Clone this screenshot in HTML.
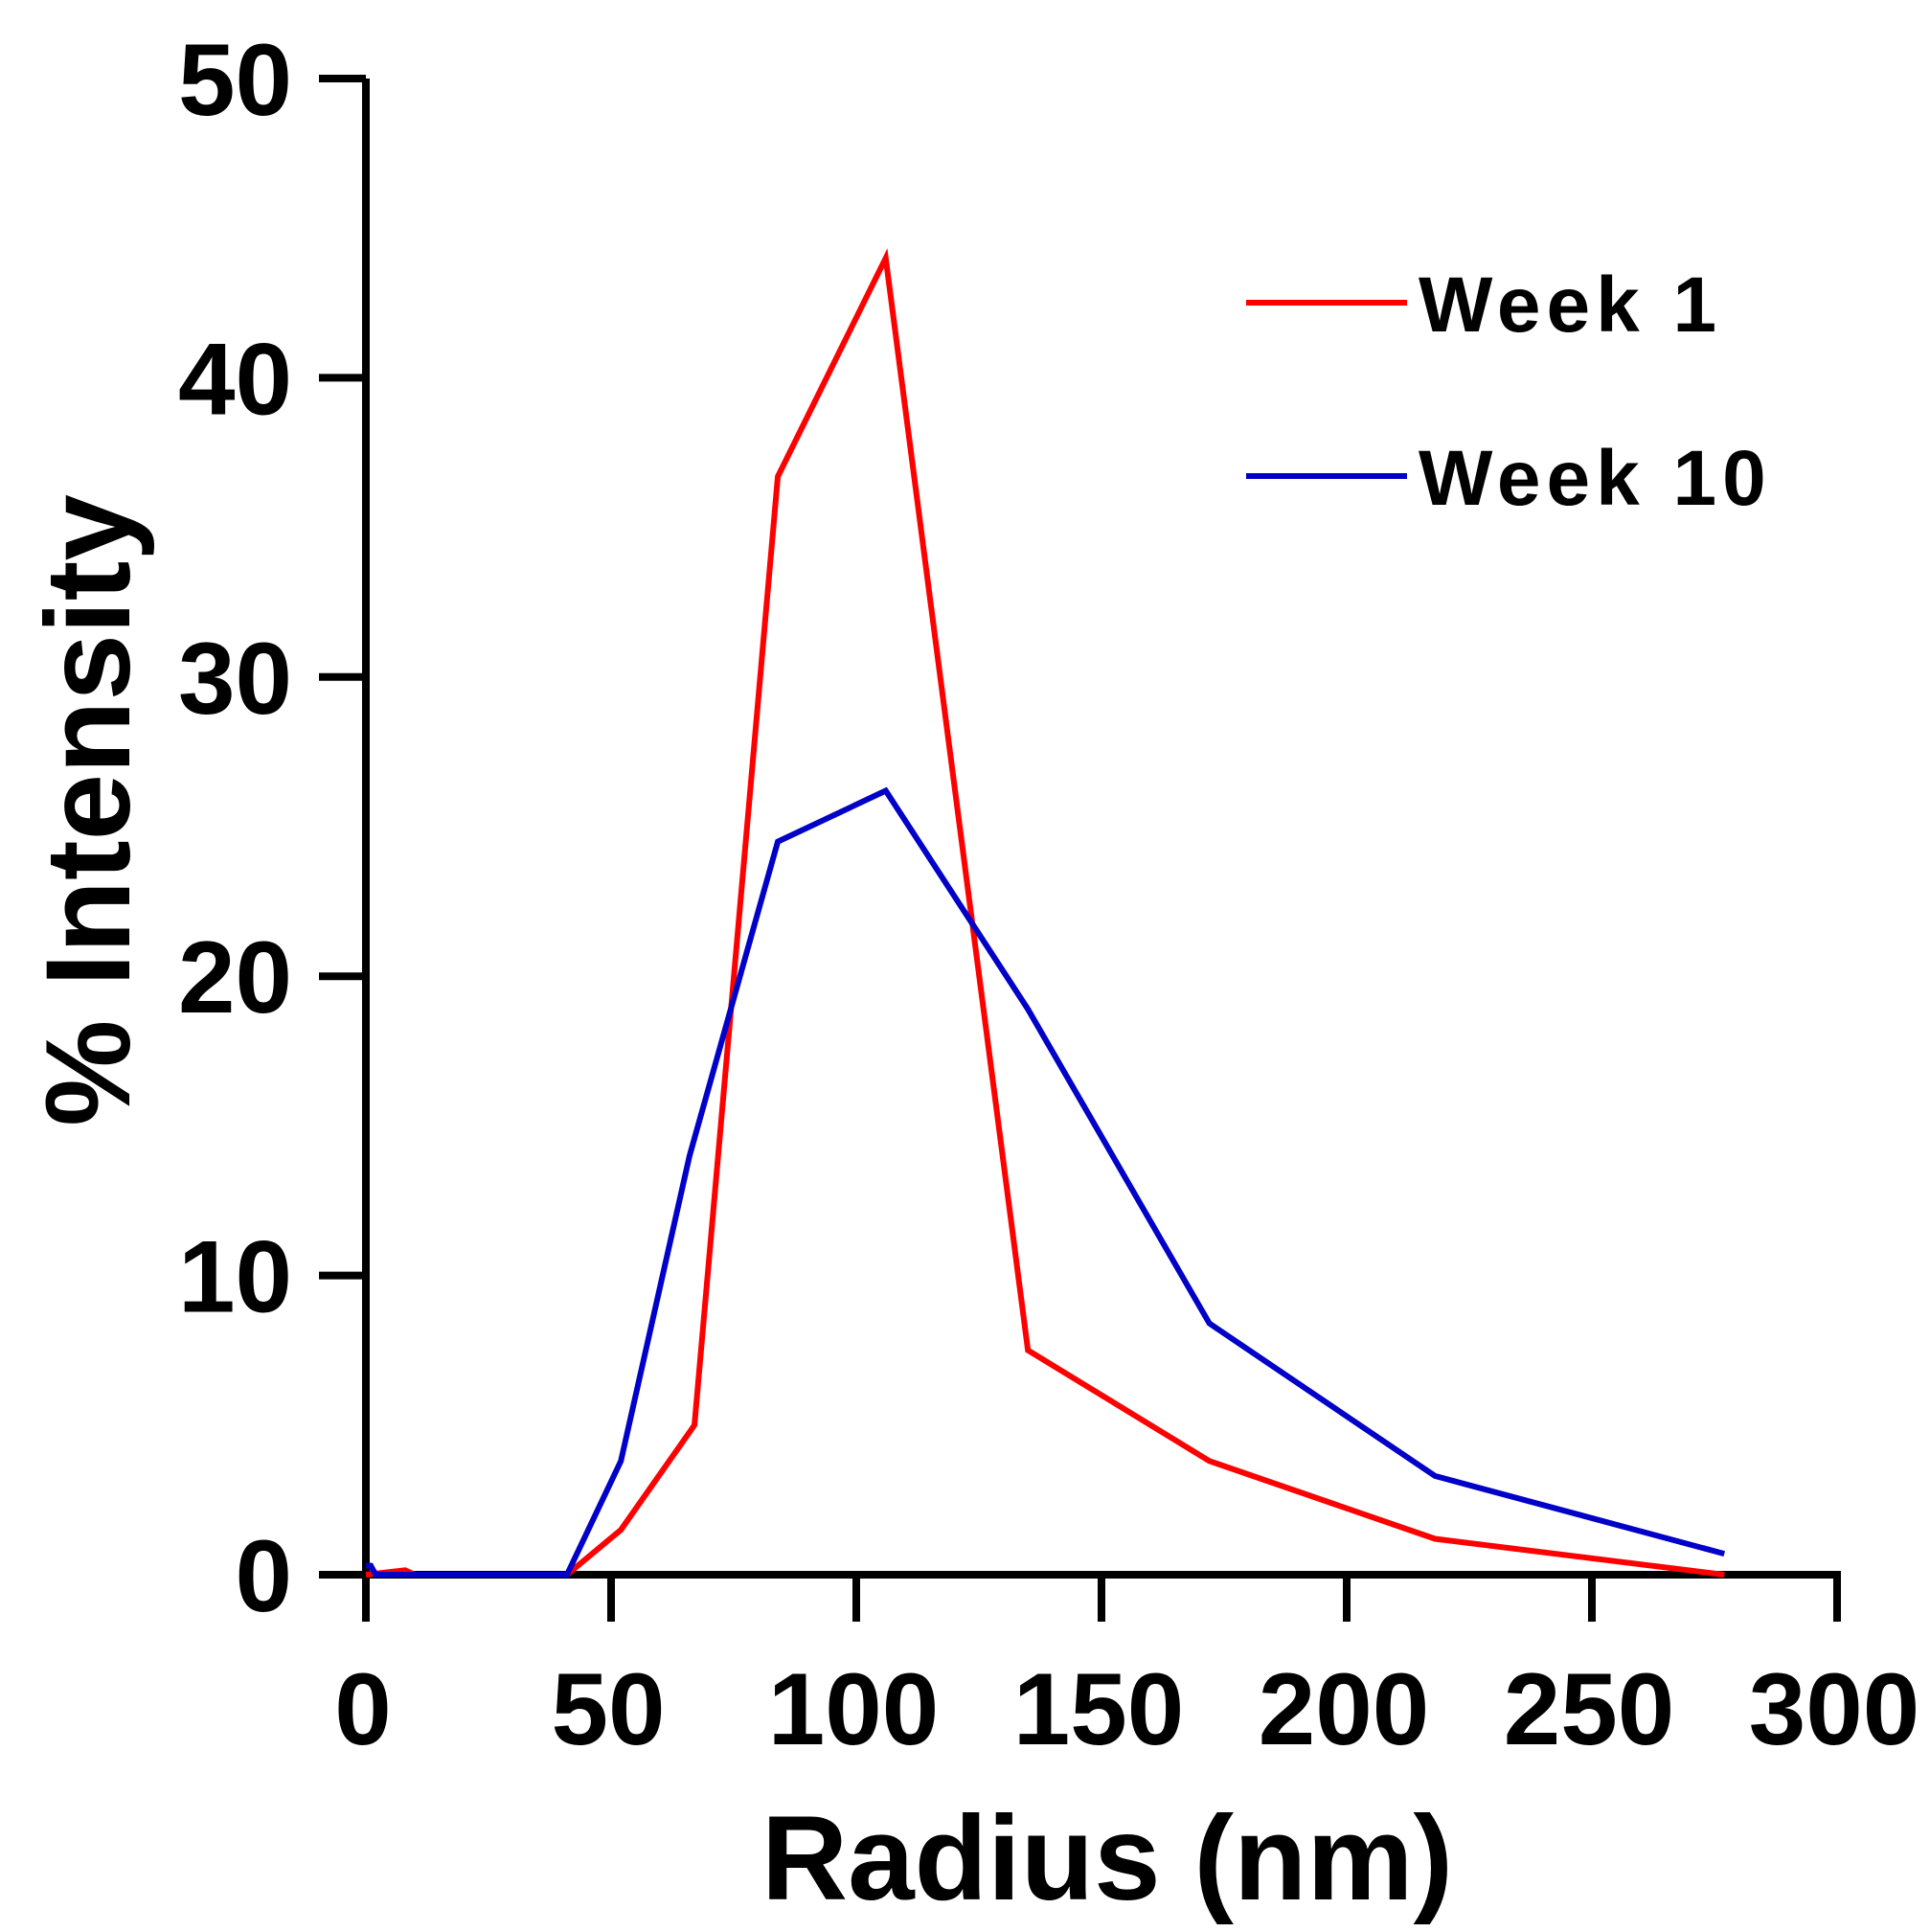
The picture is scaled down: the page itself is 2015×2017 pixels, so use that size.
<!DOCTYPE html>
<html><head><meta charset="utf-8"><style>
html,body{margin:0;padding:0;background:#fff;}
svg{display:block;font-family:"Liberation Sans",Arial,sans-serif;font-weight:bold;}
</style></head><body>
<svg id="chart" width="2015" height="2017" viewBox="0 0 2015 2017">
<g id="axes"></g>
<g id="series"></g>
<g>
  <line x1="1301" y1="316" x2="1469" y2="316" stroke="#ff0000" stroke-width="6"/>
  <text x="1481" y="346" font-size="82" letter-spacing="6">Week 1</text>
  <line x1="1301" y1="497" x2="1469" y2="497" stroke="#0000c8" stroke-width="6"/>
  <text x="1481" y="527" font-size="82" letter-spacing="6">Week 10</text>
</g>
<text x="1156" y="1983" font-size="125" text-anchor="middle">Radius (nm)</text>
<text transform="translate(135,846) rotate(-90)" font-size="125" text-anchor="middle">% Intensity</text>
</svg>
<script>
const xTicks = [0,50,100,150,200,250,300];
const yTicks = [0,10,20,30,40,50];
const week1X = [0,8,10,41,52,67,84,106,135,172,218,277];
const week1Y = [0,0.15,0,0,1.5,5,36.7,44,7.5,3.8,1.2,0];
const week10X = [0,1,2,41,52,66,84,106,135,172,218,277];
const week10Y = [0.3,0.3,0,0,3.8,14,24.5,26.2,18.9,8.4,3.3,0.7];
const NS='http://www.w3.org/2000/svg';
const X0=382, XS=5.12, Y0=1644, YS=31.24;
const sx=v=>X0+v*XS, sy=v=>Y0-v*YS;
const axes=document.getElementById('axes'), series=document.getElementById('series');
function mk(tag,attrs,parent){const e=document.createElementNS(NS,tag);for(const k in attrs)e.setAttribute(k,attrs[k]);parent.appendChild(e);return e;}
let l=mk('line',{x1:sx(0),y1:sy(0),x2:sx(0),y2:sy(50),stroke:'#000','stroke-width':8},axes);


l=mk('line',{x1:sx(0)-4,y1:sy(0),x2:sx(300)+4,y2:sy(0),stroke:'#000','stroke-width':8},axes);


yTicks.forEach(t=>{
  const tk=mk('line',{x1:sx(0)-49,y1:sy(t),x2:sx(0),y2:sy(t),stroke:'#000','stroke-width':8},axes);
  
  
  const tx=mk('text',{x:305,y:sy(t)+38,'font-size':107,'text-anchor':'end'},axes);
  tx.textContent=t;
  
  
});
xTicks.forEach(t=>{
  const tk=mk('line',{x1:sx(t),y1:sy(0),x2:sx(t),y2:sy(0)+49,stroke:'#000','stroke-width':8},axes);
  
  
  const tx=mk('text',{x:sx(t)-3,y:1821,'font-size':107,'text-anchor':'middle'},axes);
  tx.textContent=t;
  
  
});
function line(xs,ys,color,name){
  const p=mk('polyline',{points:xs.map((x,i)=>sx(x)+','+sy(ys[i])).join(' '),fill:'none',stroke:color,'stroke-width':6,'stroke-linejoin':'miter'},series);
  
  
}
line(week1X,week1Y,'#ff0000','week-1-line');
line(week10X,week10Y,'#0000c8','week-10-line');
</script>
</body></html>
